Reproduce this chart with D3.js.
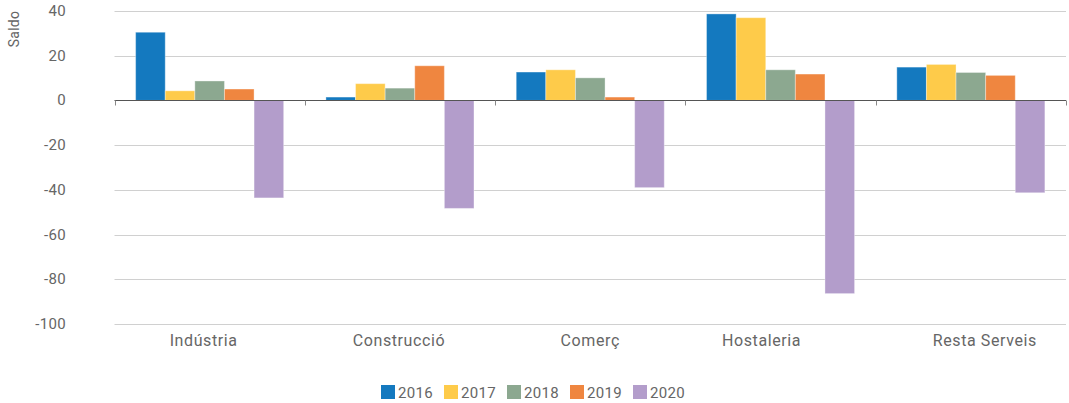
<!DOCTYPE html>
<html>
<head>
<meta charset="utf-8">
<script src="https://cdn.jsdelivr.net/npm/d3@7"></script>
<style>
  html, body { margin: 0; padding: 0; background: #fff; }
  svg text { font-family: Roboto, "Noto Sans", sans-serif; fill: #666; }
</style>
</head>
<body>
<svg id="chart" width="1069" height="403"></svg>
<script>
// Sectors on the x axis
const categories = ["Indústria", "Construcció", "Comerç", "Hostaleria", "Resta Serveis"];
// Years shown as grouped bars
const years = ["2016", "2017", "2018", "2019", "2020"];
const yearColors = ["#1479bf", "#fecb4a", "#8ca890", "#ef8640", "#b39dcb"];
// Balance per sector, one array per year
const values2016 = [30.5, 1.5, 12.7, 38.7, 14.9];
const values2017 = [4.3, 7.5, 13.7, 37.0, 16.1];
const values2018 = [8.7, 5.5, 10.1, 13.7, 12.5];
const values2019 = [5.1, 15.5, 1.5, 11.8, 11.2];
const values2020 = [-43.6, -48.3, -39.0, -86.4, -41.3];
const yTicks = [40, 20, 0, -20, -40, -60, -80, -100];
const yTitle = "Saldo";

const series = [values2016, values2017, values2018, values2019, values2020];

const svg = d3.select("#chart");
const plotLeft = 114.5, plotRight = 1066, plotTop = 11, plotBottom = 324;
// horizontal nudge of each category label relative to its band centre
const labelShift = [-6, -1, 0, -19, 14];

const x0 = d3.scaleBand().domain(categories).range([plotLeft, plotRight])
  .paddingInner(0.222).paddingOuter(0.111);
const x1 = d3.scaleBand().domain(years).range([0, x0.bandwidth()]);
const y = d3.scaleLinear().domain([-100, 40]).range([plotBottom, plotTop]);

// Horizontal gridlines
svg.append("g").selectAll("line").data(yTicks.filter(d => d !== 0)).join("line")
  .attr("x1", plotLeft).attr("x2", plotRight)
  .attr("y1", d => Math.round(y(d)) + 0.5).attr("y2", d => Math.round(y(d)) + 0.5)
  .attr("stroke", "#d0d0d0").attr("stroke-width", 1);

// Y axis labels
svg.append("g").selectAll("text").data(yTicks).join("text")
  .attr("x", 66).attr("y", d => y(d) + 5)
  .attr("text-anchor", "end").attr("font-size", 15)
  .attr("letter-spacing", "0.3px")
  .text(d => d);

svg.append("text")
  .attr("transform", "translate(19,29) rotate(-90)")
  .attr("text-anchor", "middle").attr("font-size", 14)
  .attr("letter-spacing", "0.3px")
  .text(yTitle);

// Bars
const groups = svg.append("g").selectAll("g").data(categories).join("g")
  .attr("transform", c => `translate(${x0(c)},0)`);

groups.selectAll("rect")
  .data((c, ci) => years.map((yr, yi) => ({ yr, yi, v: series[yi][ci] })))
  .join("rect")
  .attr("x", d => x1(d.yr))
  .attr("width", x1.bandwidth())
  .attr("y", d => y(Math.max(0, d.v)))
  .attr("height", d => Math.abs(y(d.v) - y(0)))
  .attr("fill", d => yearColors[d.yi])
  .attr("stroke", "#fff").attr("stroke-opacity", 0.35).attr("stroke-width", 1);

// Zero axis line with category ticks
const zeroY = Math.round(y(0)) + 0.5;
svg.append("line")
  .attr("x1", plotLeft).attr("x2", plotRight).attr("y1", zeroY).attr("y2", zeroY)
  .attr("stroke", "#555").attr("stroke-width", 1.2);

const tickPos = categories.map(c => x0(c) - x0.step() * x0.paddingOuter());
tickPos.push(plotRight);
svg.append("g").selectAll("line").data(tickPos).join("line")
  .attr("x1", d => Math.round(d) + 0.5).attr("x2", d => Math.round(d) + 0.5)
  .attr("y1", zeroY).attr("y2", zeroY + 5)
  .attr("stroke", "#888").attr("stroke-width", 1);

// Category labels
svg.append("g").selectAll("text").data(categories).join("text")
  .attr("x", (c, i) => x0(c) + x0.bandwidth() / 2 + labelShift[i])
  .attr("y", 346)
  .attr("text-anchor", "middle").attr("font-size", 16)
  .attr("letter-spacing", "0.6px")
  .text(c => c);

// Legend
const legendX = [381, 444, 507, 570, 633];
const legend = svg.append("g").selectAll("g").data(years).join("g")
  .attr("transform", (d, i) => `translate(${legendX[i]},385)`);
legend.append("rect").attr("width", 14).attr("height", 14)
  .attr("fill", (d, i) => yearColors[i]);
legend.append("text").attr("x", 17).attr("y", 13)
  .attr("font-size", 15).attr("letter-spacing", "0.3px").text(d => d);
</script>
</body>
</html>
